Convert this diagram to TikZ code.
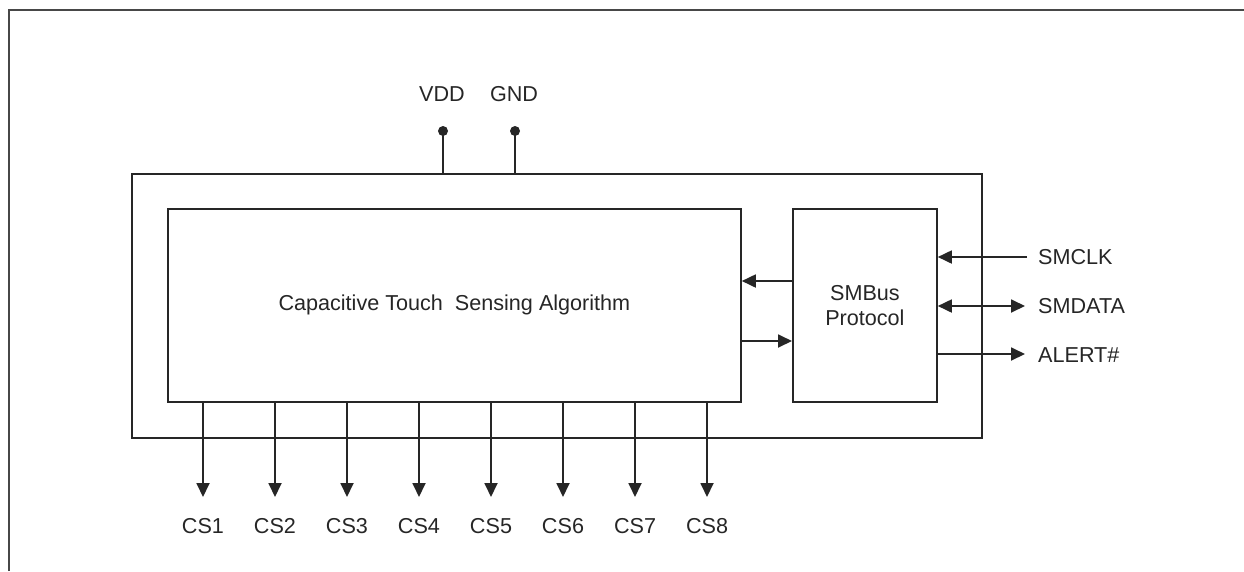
\documentclass[tikz,border=0pt]{standalone}
\usepackage{fontspec}
\setmainfont{Liberation Sans}
\usetikzlibrary{arrows.meta}
\begin{document}
\begin{tikzpicture}[x=1pt,y=-1pt,
  every node/.style={font=\fontsize{21.6}{26}\selectfont, text=black!85},
  ln/.style={line width=1.8pt, draw=black!85},
  box/.style={ln, rectangle, inner sep=0pt, anchor=north west},
  tip/.tip={Triangle[length=14pt,width=13pt]},
  arr/.style={ln, -tip},
  darr/.style={ln, tip-tip},
  frameln/.style={line width=2.2pt, draw=black!72}]
\useasboundingbox (0,0) rectangle (1244,571);
% page frame (top and left only)
\draw[frameln] (9,571) -- (9,10) -- (1244,10);
% boxes
\node[box, minimum width=850pt, minimum height=264pt] (chip) at (131,173) {};
\node[box, minimum width=573pt, minimum height=193pt] (alg) at (167,208) {};
\node at (alg.center) {Capacitive Touch\ \ Sensing Algorithm};
\node[box, minimum width=144pt, minimum height=193pt] (smb) at (792,208) {};
\node[align=center, inner sep=0pt] at (smb.center) {SMBus\\[-1pt]Protocol};
% internal arrows
\coordinate (i1) at (760,281);
\coordinate (i2) at (760,341);
\draw[arr] (smb.west |- i1) -- (alg.east |- i1);
\draw[arr] (alg.east |- i2) -- (smb.west |- i2);
% power pins
\coordinate (vdd) at (443,131);
\coordinate (gnd) at (515,131);
\draw[ln] (vdd) -- (vdd |- chip.north);
\draw[ln] (gnd) -- (gnd |- chip.north);
\fill[black!85] (vdd) circle (5);
\fill[black!85] (gnd) circle (5);
\node (vddl) at (442,94) {VDD};
\node (gndl) at (514,94) {GND};
% SMBus signals
\coordinate (clk) at (1027,257);
\coordinate (dat) at (1025,306);
\coordinate (alr) at (1025,354);
\draw[arr] (clk) -- (smb.east |- clk);
\draw[darr] (smb.east |- dat) -- (dat);
\draw[arr] (smb.east |- alr) -- (alr);
\node[anchor=west, inner sep=0pt] (clkl) at (1038,257) {SMCLK};
\node[anchor=west, inner sep=0pt] (datl) at (1038,306) {SMDATA};
\node[anchor=west, inner sep=0pt] (alrl) at (1038,355) {ALERT\#};
% CS outputs
\foreach \i/\xx in {1/203,2/275,3/347,4/419,5/491,6/563,7/635,8/707} {
  \coordinate (t\i) at (\xx,497);
  \draw[arr] (alg.south -| t\i) -- (t\i);
  \node (cs\i) at (\xx,526) {CS\i};
}
\end{tikzpicture}
\end{document}
